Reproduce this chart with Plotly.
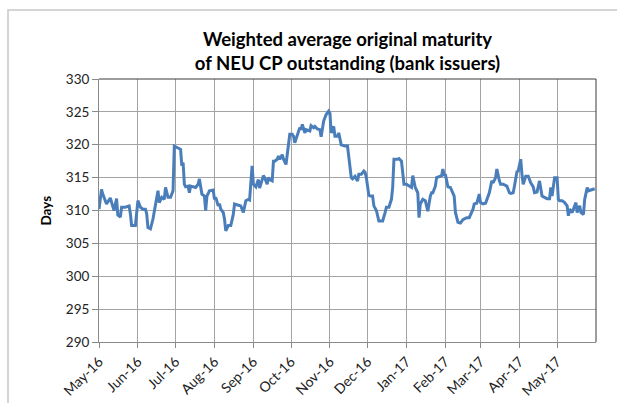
import plotly.graph_objects as go

dates = [
    "2016-05-01", "2016-05-03", "2016-05-04", "2016-05-06", "2016-05-07", "2016-05-10",
    "2016-05-12", "2016-05-13", "2016-05-15", "2016-05-16", "2016-05-18", "2016-05-19",
    "2016-05-22", "2016-05-25", "2016-05-26", "2016-05-27", "2016-05-30", "2016-05-31",
    "2016-06-01", "2016-06-03", "2016-06-05", "2016-06-07", "2016-06-08", "2016-06-09",
    "2016-06-11", "2016-06-13", "2016-06-15", "2016-06-17", "2016-06-18", "2016-06-19",
    "2016-06-20", "2016-06-22", "2016-06-23", "2016-06-25", "2016-06-27", "2016-06-29",
    "2016-06-30", "2016-07-03", "2016-07-05", "2016-07-06", "2016-07-07", "2016-07-08",
    "2016-07-09", "2016-07-11", "2016-07-12", "2016-07-13", "2016-07-16", "2016-07-17",
    "2016-07-19", "2016-07-20", "2016-07-22", "2016-07-24", "2016-07-25", "2016-07-26",
    "2016-07-28", "2016-07-31", "2016-08-01", "2016-08-02", "2016-08-04", "2016-08-05",
    "2016-08-06", "2016-08-08", "2016-08-09", "2016-08-10", "2016-08-12", "2016-08-14",
    "2016-08-16", "2016-08-17", "2016-08-20", "2016-08-22", "2016-08-24", "2016-08-26",
    "2016-08-28", "2016-08-29", "2016-08-31", "2016-09-01", "2016-09-03", "2016-09-05",
    "2016-09-06", "2016-09-09", "2016-09-10", "2016-09-12", "2016-09-13", "2016-09-14",
    "2016-09-16", "2016-09-17", "2016-09-18", "2016-09-20", "2016-09-21", "2016-09-22",
    "2016-09-24", "2016-09-25", "2016-09-27", "2016-09-29", "2016-09-30", "2016-10-02",
    "2016-10-03", "2016-10-04", "2016-10-06", "2016-10-08", "2016-10-09", "2016-10-10",
    "2016-10-12", "2016-10-13", "2016-10-16", "2016-10-17", "2016-10-19", "2016-10-20",
    "2016-10-22", "2016-10-24", "2016-10-25", "2016-10-27", "2016-10-29", "2016-10-31",
    "2016-11-01", "2016-11-02", "2016-11-04", "2016-11-05", "2016-11-07", "2016-11-08",
    "2016-11-10", "2016-11-13", "2016-11-15", "2016-11-16", "2016-11-18", "2016-11-19",
    "2016-11-21", "2016-11-23", "2016-11-24", "2016-11-26", "2016-11-28", "2016-11-29",
    "2016-11-30", "2016-12-02", "2016-12-03", "2016-12-05", "2016-12-06", "2016-12-08",
    "2016-12-10", "2016-12-12", "2016-12-13", "2016-12-15", "2016-12-16", "2016-12-18",
    "2016-12-20", "2016-12-21", "2016-12-22", "2016-12-25", "2016-12-26", "2016-12-28",
    "2016-12-30", "2017-01-01", "2017-01-03", "2017-01-05", "2017-01-06", "2017-01-08",
    "2017-01-10", "2017-01-11", "2017-01-12", "2017-01-14", "2017-01-16", "2017-01-18",
    "2017-01-20", "2017-01-21", "2017-01-22", "2017-01-24", "2017-01-25", "2017-01-27",
    "2017-01-29", "2017-01-30", "2017-01-31", "2017-02-01", "2017-02-03", "2017-02-05",
    "2017-02-06", "2017-02-08", "2017-02-09", "2017-02-11", "2017-02-13", "2017-02-15",
    "2017-02-18", "2017-02-20", "2017-02-23", "2017-02-24", "2017-02-26", "2017-02-28",
    "2017-03-01", "2017-03-03", "2017-03-05", "2017-03-07", "2017-03-08", "2017-03-10",
    "2017-03-11", "2017-03-13", "2017-03-14", "2017-03-16", "2017-03-17", "2017-03-19",
    "2017-03-22", "2017-03-23", "2017-03-24", "2017-03-25", "2017-03-27", "2017-03-28",
    "2017-03-30", "2017-03-31", "2017-04-02", "2017-04-03", "2017-04-04", "2017-04-06",
    "2017-04-08", "2017-04-10", "2017-04-12", "2017-04-13", "2017-04-15", "2017-04-17",
    "2017-04-19", "2017-04-21", "2017-04-23", "2017-04-25", "2017-04-26", "2017-04-27",
    "2017-04-29", "2017-05-01", "2017-05-02", "2017-05-03", "2017-05-05", "2017-05-07",
    "2017-05-09", "2017-05-10", "2017-05-11", "2017-05-13", "2017-05-15", "2017-05-16",
    "2017-05-17", "2017-05-19", "2017-05-20", "2017-05-22", "2017-05-23", "2017-05-25",
    "2017-05-26", "2017-05-28", "2017-05-29", "2017-05-31",
]

days = [
    310.2, 313.2, 312.5, 311.3, 311.0, 311.9,
    310.7, 310.0, 311.8, 309.3, 309.0, 310.5,
    310.5, 310.7, 309.5, 307.7, 307.7, 310.3,
    311.5, 310.5, 310.2, 310.2, 309.5, 307.4,
    307.2, 308.7, 311.2, 313.0, 311.2, 311.7,
    312.0, 311.7, 313.5, 312.0, 312.0, 313.0,
    319.8, 319.5, 319.3, 316.8, 317.3, 314.0,
    313.6, 313.7, 312.7, 313.7, 313.6, 313.5,
    314.0, 314.8, 312.5, 312.2, 310.0, 312.2,
    313.0, 313.1, 311.7, 312.0, 310.7, 311.0,
    310.2, 309.7, 308.7, 306.9, 307.7, 307.7,
    309.4, 311.0, 310.8, 310.7, 309.7, 311.5,
    311.7, 311.6, 316.8, 314.0, 313.6, 314.7,
    313.4, 315.3, 315.0, 314.0, 315.0, 314.7,
    314.5, 317.5, 317.5, 317.8, 318.3, 317.8,
    318.5, 317.8, 317.0, 319.8, 321.6, 321.6,
    321.3, 320.3, 321.3, 322.6, 322.3, 323.1,
    321.8, 322.3, 322.1, 322.9, 322.6, 322.8,
    322.4, 322.3, 321.2, 323.6, 324.6, 325.1,
    324.8, 321.8, 322.8, 321.3, 321.3, 321.8,
    320.0, 319.8, 319.8, 318.3, 315.0, 314.8,
    315.2, 314.5, 315.5, 315.5, 316.0, 315.8,
    315.0, 312.3, 312.2, 312.2, 310.7, 310.0,
    308.4, 308.4, 308.4, 309.7, 310.5, 310.5,
    311.7, 313.5, 317.8, 317.8, 317.9, 317.5,
    314.0, 314.0, 313.8, 313.5, 315.3, 313.5,
    312.7, 308.9, 311.0, 311.7, 311.5, 309.9,
    312.2, 312.7, 312.7, 313.7, 315.0, 315.2,
    315.3, 316.3, 315.3, 315.5, 313.6, 313.5,
    313.0, 312.2, 309.7, 308.2, 308.1, 308.6,
    308.9, 308.9, 310.2, 311.0, 311.1, 312.5,
    311.2, 311.0, 311.1, 312.2, 312.7, 314.5,
    314.2, 315.0, 316.3, 314.5, 314.0, 314.0,
    313.7, 313.2, 312.7, 312.6, 312.7, 313.7,
    315.9, 316.0, 317.8, 315.5, 314.0, 315.2,
    315.2, 314.2, 313.6, 312.7, 312.8, 314.5,
    312.2, 312.0, 311.8, 311.8, 313.5, 312.2,
    315.0, 315.0, 311.7, 311.5, 311.5, 311.2,
    310.7, 309.2, 310.2, 309.7, 310.7, 311.2,
    309.7, 310.7, 309.7, 309.4, 311.7, 313.5,
    313.0, 313.1, 313.2, 313.3,
]

month_ticks = [
    "2016-05-01", "2016-06-01", "2016-07-01", "2016-08-01", "2016-09-01",
    "2016-10-01", "2016-11-01", "2016-12-01", "2017-01-01", "2017-02-01",
    "2017-03-01", "2017-04-01", "2017-05-01",
]
month_labels = [
    "May-16", "Jun-16", "Jul-16", "Aug-16", "Sep-16", "Oct-16", "Nov-16",
    "Dec-16", "Jan-17", "Feb-17", "Mar-17", "Apr-17", "May-17",
]
y_ticks = [290, 295, 300, 305, 310, 315, 320, 325, 330]

W, H = 617, 403
L, R, T, B = 99, 21, 79, 61
pw, ph = W - L - R, H - T - B

def px_x(p):
    return (p - L) / pw

def px_y(p):
    return (H - B - p) / ph

FONT = "Lato"
GRID = "#a3a3a3"

fig = go.Figure()
fig.add_trace(go.Scatter(
    x=dates, y=days, mode="lines",
    line=dict(color="#4a7ebb", width=3),
    hoverinfo="skip", showlegend=False,
))

fig.update_layout(
    width=W, height=H,
    margin=dict(l=L, r=R, t=T, b=B, autoexpand=False),
    paper_bgcolor="white", plot_bgcolor="white",
    font=dict(family=FONT, color="#222"),
    title=dict(
        text="<b>Weighted average original maturity<br>of NEU CP outstanding (bank issuers)</b>",
        x=0.5, xref="paper", xanchor="center",
        y=1 - 46 / H, yref="container", yanchor="middle",
        font=dict(family=FONT, size=18.5, color="black"),
    ),
    xaxis=dict(
        type="date",
        range=["2016-05-01", "2017-06-01"],
        tickmode="array", tickvals=month_ticks, ticktext=month_labels,
        tickangle=-45, tickfont=dict(family=FONT, size=14, color="#222"),
        showgrid=True, gridcolor=GRID, gridwidth=1,
        showline=True, linecolor="#8a8a8a", linewidth=1,
        ticks="outside", ticklen=5, tickcolor="#8a8a8a",
        zeroline=False, fixedrange=True, automargin=False,
    ),
    yaxis=dict(
        range=[290, 330],
        tickmode="array", tickvals=y_ticks,
        tickfont=dict(family=FONT, size=13.5, color="#222"),
        showgrid=True, gridcolor=GRID, gridwidth=1,
        showline=True, linecolor="#8a8a8a", linewidth=1,
        ticks="outside", ticklen=6, tickcolor="#8a8a8a",
        zeroline=False, fixedrange=True, automargin=False,
    ),
    shapes=[
        # outer chart frame
        dict(type="rect", xref="paper", yref="paper",
             x0=px_x(8), x1=px_x(640), y0=px_y(440), y1=px_y(10),
             line=dict(color="#c8c8c8", width=1.5), fillcolor="rgba(0,0,0,0)",
             layer="below"),
        # plot-area top and right border
        dict(type="line", xref="paper", yref="paper", x0=0, x1=1, y0=1, y1=1,
             line=dict(color="#3a3a3a", width=1)),
        dict(type="line", xref="paper", yref="paper", x0=1, x1=1, y0=0, y1=1,
             line=dict(color="#3a3a3a", width=1)),
    ],
    annotations=[
        dict(text="<b>Days</b>", xref="paper", yref="paper",
             x=px_x(45), y=0.5, textangle=-90, showarrow=False,
             xanchor="center", yanchor="middle",
             font=dict(family=FONT, size=13.5, color="black")),
    ],
)

fig.write_html(
    "out.html",
    config={"displayModeBar": False, "staticPlot": True},
    post_script="document.body.style.margin='0';document.body.style.overflow='hidden';",
)
